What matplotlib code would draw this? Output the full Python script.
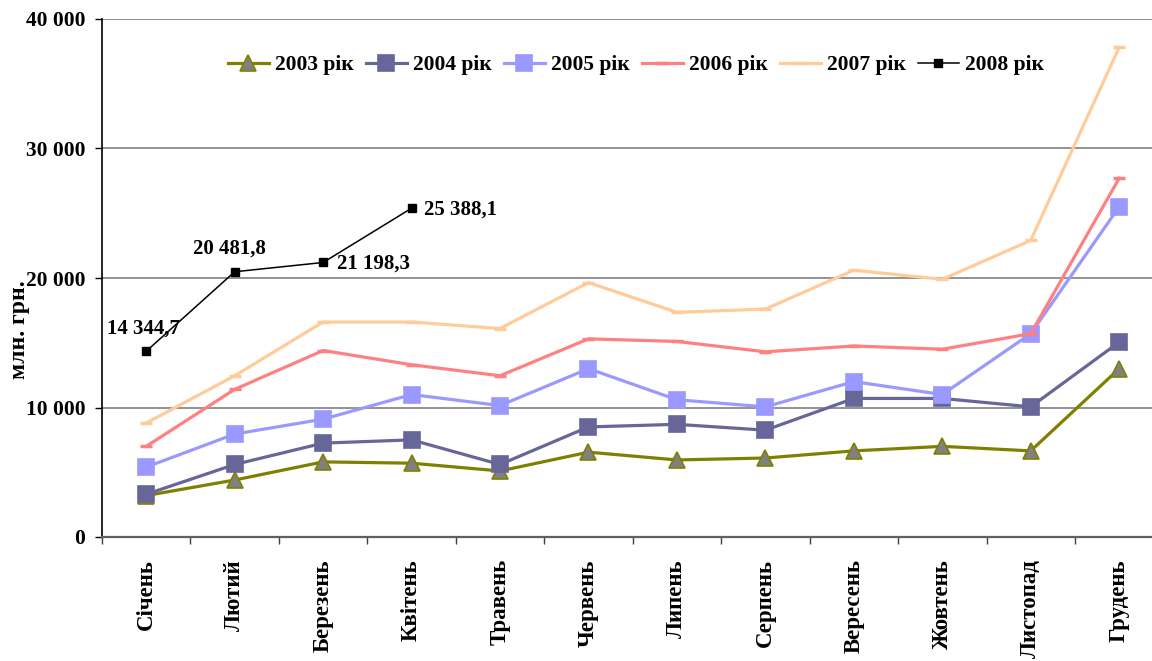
import matplotlib

matplotlib.use("Agg")
import matplotlib.pyplot as plt
import numpy as np
from matplotlib.ticker import FixedLocator, NullFormatter


MONTHS = [
    "Січень",
    "Лютий",
    "Березень",
    "Квітень",
    "Травень",
    "Червень",
    "Липень",
    "Серпень",
    "Вересень",
    "Жовтень",
    "Листопад",
    "Грудень",
]

Y2003 = [3200, 4400, 5800, 5700, 5100, 6550, 5950, 6100, 6650, 7000, 6650, 13000]
Y2004 = [3300, 5600, 7250, 7500, 5600, 8500, 8700, 8250, 10700, 10700, 10050, 15050]
Y2005 = [5400, 7950, 9100, 11000, 10150, 13000, 10600, 10050, 12000, 11000, 15700, 25500]
Y2006 = [7000, 11400, 14400, 13300, 12450, 15300, 15100, 14300, 14750, 14500, 15700, 27700]
Y2007 = [8800, 12450, 16600, 16600, 16100, 19650, 17350, 17600, 20600, 19900, 22900, 37800]
Y2008 = [14344.7, 20481.8, 21198.3, 25388.1]

Y_TICKS = [0, 10000, 20000, 30000, 40000]
Y_TICK_LABELS = ["0", "10 000", "20 000", "30 000", "40 000"]

# (label, values, line colour, marker, marker size, marker face, marker edge)
STYLES = [
    ("2003 рік", Y2003, "#808000", "^", 11, "#808080", "#808000"),
    ("2004 рік", Y2004, "#666699", "s", 12, "#666699", "#666699"),
    ("2005 рік", Y2005, "#9999FF", "s", 12, "#9999FF", "#9999FF"),
    ("2006 рік", Y2006, "#FF8080", "_", 8, "#FF8080", "#FF8080"),
    ("2007 рік", Y2007, "#FFCC99", "_", 8, "#FFCC99", "#FFCC99"),
]

plt.rcParams["font.family"] = ["Liberation Serif", "DejaVu Serif"]
plt.rcParams["font.weight"] = "bold"

W, H = 1152, 661
fig = plt.figure(figsize=(W / 100, H / 100), dpi=100)
fig.patch.set_facecolor("white")

left_px, top_px, bottom_px = 102, 19, 537
step_px = 88.45
ax = fig.add_axes(
    [left_px / W, 1 - bottom_px / H, (W - left_px) / W, (bottom_px - top_px) / H]
)

x = np.arange(len(MONTHS))

for label, values, color, marker, ms, face, edge in STYLES:
    ax.plot(
        x[: len(values)],
        values,
        color=color,
        linewidth=2.3,
        marker=marker,
        markersize=ms,
        markerfacecolor=face,
        markeredgecolor=edge,
        markeredgewidth=2.5 if marker == "_" else 1.2,
        label=label,
        clip_on=False,
        zorder=3,
    )

ax.plot(
    x[: len(Y2008)],
    Y2008,
    color="black",
    linewidth=1.1,
    marker="s",
    markersize=6,
    label="2008 рік",
    zorder=4,
)

# value labels for 2008
label_offsets = [
    ((-2, 16), "center"),
    ((-4, 17), "center"),
    ((10, -1), "left"),
    ((9, -1), "left"),
]
for xi, val, (off, ha) in zip(x, Y2008, label_offsets):
    text = f"{val:,.1f}".replace(",", " ").replace(".", ",")
    ax.annotate(
        text,
        (xi, val),
        xytext=off,
        textcoords="offset points",
        ha=ha,
        va="center",
        fontsize=15,
        fontweight="bold",
        zorder=5,
    )

ax.set_xlim(-0.5, -0.5 + (W - left_px) / step_px)
ax.set_ylim(0, 40000)

ax.set_yticks(Y_TICKS)
ax.set_yticklabels(Y_TICK_LABELS, fontsize=15.5, fontweight="bold")
ax.tick_params(axis="y", direction="out", length=5, width=1, pad=7)

ax.set_xticks(x)
ax.set_xticklabels(MONTHS, rotation=90, fontsize=16.5, fontweight="bold", va="top")
ax.tick_params(axis="x", which="major", length=0, pad=16)
ax.xaxis.set_minor_locator(FixedLocator(np.arange(-0.5, len(MONTHS), 1.0)))
ax.xaxis.set_minor_formatter(NullFormatter())
ax.tick_params(axis="x", which="minor", direction="out", length=5, width=1, color="#404040")

ax.grid(axis="y", color="#808080", linewidth=1.2)
ax.set_axisbelow(True)

ax.spines["top"].set_visible(False)
ax.spines["right"].set_visible(False)
ax.spines["left"].set_color("black")
ax.spines["left"].set_linewidth(1.2)
ax.spines["bottom"].set_color("#606060")
ax.spines["bottom"].set_linewidth(1.6)

fig.text(
    20 / W,
    1 - 330 / H,
    "млн. грн.",
    rotation=90,
    ha="center",
    va="center",
    fontsize=17,
    fontweight="bold",
)

ax.legend(
    loc="center",
    bbox_to_anchor=(636 / W, 1 - 65 / H),
    bbox_transform=fig.transFigure,
    ncol=6,
    frameon=False,
    fontsize=15.5,
    handlelength=1.9,
    handletextpad=0.3,
    columnspacing=0.55,
    borderaxespad=0.0,
)

fig.savefig("out.png", dpi=100, facecolor="white")
plt.close(fig)
